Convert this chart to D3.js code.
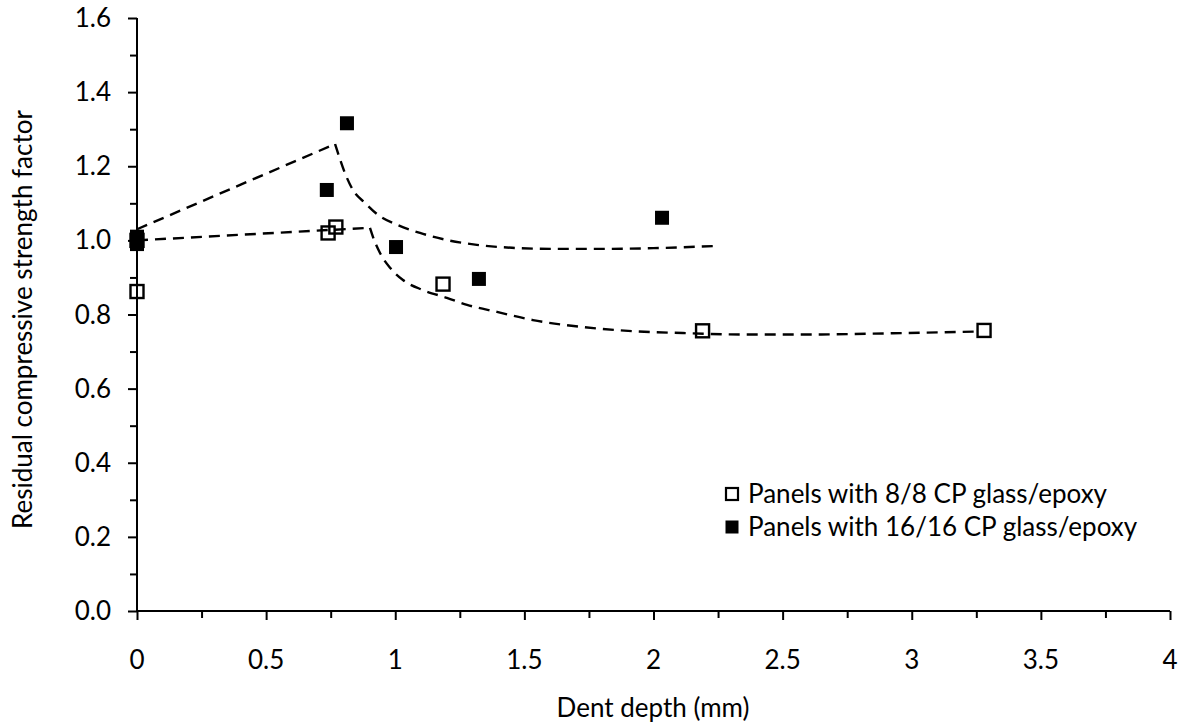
<!DOCTYPE html>
<html>
<head>
<meta charset="utf-8">
<script src="https://cdn.jsdelivr.net/npm/d3@7"></script>
<style>
  html, body { margin: 0; padding: 0; background: #fff; }
  svg { display: block; }
  text { font-family: Lato, "Open Sans", sans-serif; fill: #000; }
</style>
</head>
<body>
<svg id="chart" width="1182" height="723"></svg>
<script>
// ---- data ----
const xTicks = [0, 0.5, 1, 1.5, 2, 2.5, 3, 3.5, 4];
const yTicks = [0, 0.2, 0.4, 0.6, 0.8, 1.0, 1.2, 1.4, 1.6];

// Panels with 8/8 CP glass/epoxy (open squares)
const open8X = [0, 0, 0.74, 0.77, 1.185, 2.19, 3.28];
const open8Y = [1.00, 0.862, 1.020, 1.036, 0.882, 0.756, 0.757];

// Panels with 16/16 CP glass/epoxy (filled squares)
const fill16X = [0, 0, 0, 0.735, 0.813, 1.003, 1.324, 2.033];
const fill16Y = [0.99, 1.00, 1.01, 1.136, 1.316, 0.982, 0.896, 1.061];

// dashed fit for 16/16 panels: straight rise then decay
const fit16RiseX = [0, 0.767];
const fit16RiseY = [1.03, 1.260];
const fit16DecayX = [0.767, 0.778, 0.805, 0.836, 0.883, 0.933, 1.007, 1.096, 1.20, 1.316, 1.452, 1.62, 1.80, 2.0, 2.245];
const fit16DecayY = [1.260, 1.236, 1.182, 1.136, 1.101, 1.069, 1.042, 1.020, 1.001, 0.988, 0.980, 0.977, 0.977, 0.979, 0.985];

// dashed fit for 8/8 panels: straight rise then decay
const fit8RiseX = [0, 0.902];
const fit8RiseY = [1.00, 1.034];
const fit8DecayX = [0.902, 0.914, 0.941, 0.98, 1.03, 1.107, 1.20, 1.278, 1.394, 1.533, 1.727, 1.92, 2.114, 2.346, 2.6, 2.9, 3.25];
const fit8DecayY = [1.034, 1.009, 0.966, 0.926, 0.893, 0.866, 0.845, 0.826, 0.807, 0.785, 0.766, 0.755, 0.750, 0.746, 0.746, 0.749, 0.754];

const legendLabels = ["Panels with 8/8 CP glass/epoxy", "Panels with 16/16 CP glass/epoxy"];
const xTitle = "Dent depth (mm)";
const yTitle = "Residual compressive strength factor";

// ---- layout ----
const svg = d3.select("#chart");
const x = d3.scaleLinear().domain([0, 4]).range([137, 1170]);
const y = d3.scaleLinear().domain([0, 1.6]).range([611, 18]);

const FONT = 26;

// axes
const xAxis = svg.append("g").attr("transform", `translate(0,${y(0)})`);
xAxis.call(d3.axisBottom(x).tickValues(d3.range(0, 4.001, 0.25)).tickSize(8).tickFormat(""));
xAxis.select(".domain").attr("stroke", "#000").attr("stroke-width", 2).attr("d", `M${x(0)},0H${x(4)}`);
xAxis.selectAll(".tick line").attr("stroke", "#000").attr("stroke-width", 2)
  .attr("y2", d => (Math.abs(d * 2 - Math.round(d * 2)) < 1e-6) ? 9 : 7);
svg.append("g").selectAll("text").data(xTicks).join("text")
  .attr("x", d => x(d)).attr("y", 669)
  .attr("text-anchor", "middle").attr("font-size", FONT)
  .text(d => String(d));

const yAxis = svg.append("g").attr("transform", `translate(${x(0)},0)`);
yAxis.call(d3.axisLeft(y).tickValues(d3.range(0, 1.6001, 0.1)).tickSize(8).tickFormat(""));
yAxis.select(".domain").attr("stroke", "#000").attr("stroke-width", 2).attr("d", `M0,${y(0)}V${y(1.6)}`);
yAxis.selectAll(".tick line").attr("stroke", "#000").attr("stroke-width", 2)
  .attr("x2", d => (Math.abs(d * 5 - Math.round(d * 5)) < 1e-6) ? -9 : -7);
svg.append("g").selectAll("text").data(yTicks).join("text")
  .attr("x", 111).attr("y", d => y(d) + 9)
  .attr("text-anchor", "end").attr("font-size", FONT)
  .text(d => d.toFixed(1));

// titles
svg.append("text").attr("x", 653).attr("y", 717).attr("text-anchor", "middle")
  .attr("font-size", FONT).text(xTitle);
svg.append("text").attr("transform", `translate(32,${(97 + 542) / 2}) rotate(-90)`)
  .attr("text-anchor", "middle").attr("font-size", FONT).text(yTitle);

// fit lines
const lin = d3.line().x(d => x(d[0])).y(d => y(d[1]));
const smooth = d3.line().x(d => x(d[0])).y(d => y(d[1])).curve(d3.curveMonotoneX);
const zipXY = (a, b) => a.map((v, i) => [v, b[i]]);
const dash = { stroke: "#000", "stroke-width": 2.4, "stroke-dasharray": "11,7", fill: "none" };
function drawPath(gen, pts) {
  const p = svg.append("path").attr("d", gen(pts));
  Object.entries(dash).forEach(([k, v]) => p.attr(k, v));
}
drawPath(lin, zipXY(fit16RiseX, fit16RiseY));
drawPath(smooth, zipXY(fit16DecayX, fit16DecayY));
drawPath(lin, zipXY(fit8RiseX, fit8RiseY));
drawPath(smooth, zipXY(fit8DecayX, fit8DecayY));

// markers
const S = 13;
svg.append("g").selectAll("rect").data(zipXY(fill16X, fill16Y)).join("rect")
  .attr("x", d => x(d[0]) - 7).attr("y", d => y(d[1]) - 7)
  .attr("width", 14).attr("height", 14).attr("fill", "#000");
svg.append("g").selectAll("rect").data(zipXY(open8X, open8Y)).join("rect")
  .attr("x", d => x(d[0]) - S / 2).attr("y", d => y(d[1]) - S / 2)
  .attr("width", S).attr("height", S)
  .attr("fill", "none").attr("stroke", "#000").attr("stroke-width", 2.4);

// legend
const lg = svg.append("g");
const rows = [503, 536];
lg.append("rect").attr("x", 732 - 6).attr("y", rows[0] - 9 - 6).attr("width", 12).attr("height", 12)
  .attr("fill", "none").attr("stroke", "#000").attr("stroke-width", 2.2);
lg.append("rect").attr("x", 732 - 6.5).attr("y", rows[1] - 9 - 6.5).attr("width", 13).attr("height", 13)
  .attr("fill", "#000");
lg.selectAll("text").data(legendLabels).join("text")
  .attr("x", 748).attr("y", (d, i) => rows[i])
  .attr("font-size", FONT).text(d => d);
</script>
</body>
</html>
